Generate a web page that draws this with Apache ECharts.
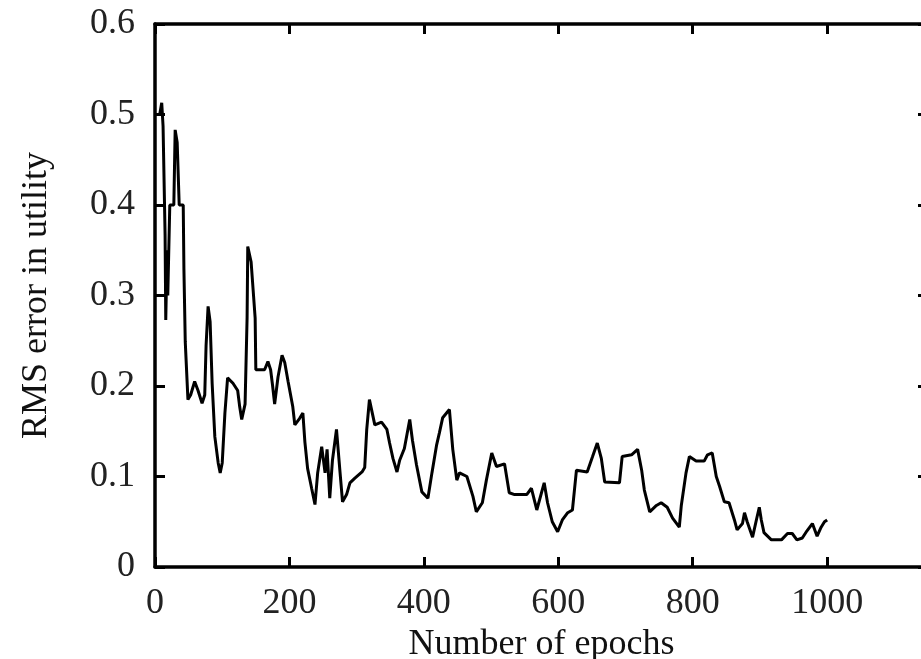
<!DOCTYPE html>
<html>
<head>
<meta charset="UTF-8">
<script type="text/javascript" src="https://cdn.jsdelivr.net/npm/echarts@6/dist/echarts.min.js"></script>
<title>RMS error</title>
<style>
	html, body { margin: 0; padding: 0; background: #fff; }
	#main { width: 921px; height: 659px; }
</style>
<script>
	// epochs and RMS error
	var epochs = [2, 7, 10, 12, 15, 16, 18, 19, 22, 28, 30, 33, 36, 42, 43, 45, 49, 53, 59, 64,
		70, 74, 76, 79, 82, 85, 89, 94, 97, 100, 104, 108, 116, 123, 126, 129, 134, 137, 138, 143,
		149, 150, 163, 168, 172, 175, 178, 183, 189, 193, 198, 205, 208, 215, 220, 223, 227, 233, 238, 242,
		248, 253, 256, 260, 264, 270, 275, 279, 285, 290, 297, 308, 312, 315, 319, 327, 337, 345, 349, 354,
		360, 364, 371, 379, 383, 389, 397, 406, 412, 419, 423, 428, 438, 443, 449, 453, 464, 473, 478, 487,
		493, 501, 508, 520, 527, 535, 553, 560, 568, 579, 584, 591, 599, 606, 614, 621, 624, 627, 643, 651,
		658, 664, 669, 691, 695, 709, 718, 724, 728, 736, 746, 753, 762, 770, 780, 783, 790, 795, 805, 817,
		822, 829, 835, 840, 847, 854, 862, 866, 874, 877, 881, 889, 895, 899, 902, 906, 917, 932, 941, 948,
		955, 963, 970, 978, 985, 991, 996, 1000];
	var rmsError = [0.5, 0.5, 0.513, 0.487, 0.367, 0.273, 0.35, 0.30, 0.40, 0.40, 0.483, 0.469, 0.40, 0.40, 0.33, 0.249, 0.185, 0.19, 0.205, 0.195,
		0.181, 0.19, 0.245, 0.288, 0.271, 0.203, 0.144, 0.115, 0.104, 0.115, 0.17, 0.209, 0.203, 0.195, 0.177, 0.163, 0.18, 0.275, 0.354, 0.337,
		0.275, 0.218, 0.218, 0.227, 0.218, 0.2, 0.18, 0.21, 0.234, 0.226, 0.205, 0.177, 0.157, 0.164, 0.17, 0.138, 0.109, 0.087, 0.069, 0.104,
		0.133, 0.104, 0.13, 0.076, 0.118, 0.152, 0.107, 0.072, 0.08, 0.093, 0.098, 0.105, 0.11, 0.152, 0.185, 0.157, 0.16, 0.152, 0.137, 0.12,
		0.105, 0.118, 0.131, 0.163, 0.14, 0.113, 0.083, 0.076, 0.104, 0.135, 0.148, 0.165, 0.174, 0.13, 0.096, 0.104, 0.1, 0.078, 0.061, 0.071,
		0.096, 0.126, 0.111, 0.114, 0.082, 0.08, 0.08, 0.087, 0.063, 0.093, 0.071, 0.05, 0.039, 0.052, 0.06, 0.063, 0.085, 0.107, 0.105, 0.122,
		0.137, 0.12, 0.094, 0.093, 0.122, 0.124, 0.13, 0.107, 0.085, 0.061, 0.068, 0.071, 0.066, 0.054, 0.044, 0.068, 0.104, 0.122, 0.117, 0.117,
		0.124, 0.126, 0.1, 0.089, 0.072, 0.071, 0.052, 0.041, 0.048, 0.06, 0.05, 0.033, 0.053, 0.066, 0.052, 0.038, 0.03, 0.03, 0.037, 0.037,
		0.03, 0.032, 0.04, 0.048, 0.034, 0.044, 0.05, 0.052];
	var xTicks = [0, 200, 400, 600, 800, 1000];
	var yTicks = [0, 0.1, 0.2, 0.3, 0.4, 0.5, 0.6];

	window.onload = function() {
		var chart = echarts.init(document.getElementById('main'), null, {renderer: 'canvas'});
		var font = 'Liberation Serif';
		var pts = [];
		for (var i = 0; i < epochs.length; i++) {
			pts.push([epochs[i], rmsError[i]]);
		}
		var axisLine = {show: true, onZero: false, lineStyle: {color: '#000', width: 3.5}};
		var tickStyle = {show: true, inside: true, length: 10, lineStyle: {color: '#000', width: 3}};

		chart.setOption({
			animation: false,
			backgroundColor: '#fff',
			grid: {left: 155, top: 24, right: -7, bottom: 92, outerBoundsMode: 'none', containLabel: false},
			xAxis: [{
				type: 'value', min: 0, max: 1150, interval: 200,
				position: 'bottom',
				name: 'Number of epochs', nameLocation: 'middle', nameGap: 51,
				nameTextStyle: {fontFamily: font, fontSize: 36, color: '#111'},
				axisLine: axisLine,
				axisTick: tickStyle,
				splitLine: {show: false},
				axisLabel: {
					fontFamily: font, fontSize: 36, color: '#222', margin: 19,
					showMaxLabel: false,
					formatter: function(v) { return xTicks.indexOf(v) >= 0 ? String(v) : ''; }
				}
			}, {
				type: 'value', min: 0, max: 1150, interval: 200,
				position: 'top',
				axisLine: axisLine,
				axisTick: tickStyle,
				splitLine: {show: false},
				axisLabel: {show: false}
			}],
			yAxis: [{
				type: 'value', min: 0, max: 0.6, interval: 0.1,
				position: 'left',
				name: 'RMS error in utility', nameLocation: 'middle', nameGap: 100, nameRotate: 90,
				nameTextStyle: {fontFamily: font, fontSize: 36, color: '#111'},
				axisLine: axisLine,
				axisTick: tickStyle,
				splitLine: {show: false},
				axisLabel: {
					fontFamily: font, fontSize: 36, color: '#222', margin: 20,
					formatter: function(v) {
						var r = Math.round(v * 10) / 10;
						return yTicks.indexOf(r) >= 0 ? String(r) : '';
					}
				}
			}, {
				type: 'value', min: 0, max: 0.6, interval: 0.1,
				position: 'right',
				axisLine: axisLine,
				axisTick: tickStyle,
				splitLine: {show: false},
				axisLabel: {show: false}
			}],
			series: [{
				type: 'line',
				xAxisIndex: 0,
				yAxisIndex: 0,
				data: pts,
				showSymbol: false,
				lineStyle: {color: '#000', width: 3},
				z: 3
			}]
		});
	};
</script>
</head>
<body>
<div id="main"></div>
</body>
</html>
